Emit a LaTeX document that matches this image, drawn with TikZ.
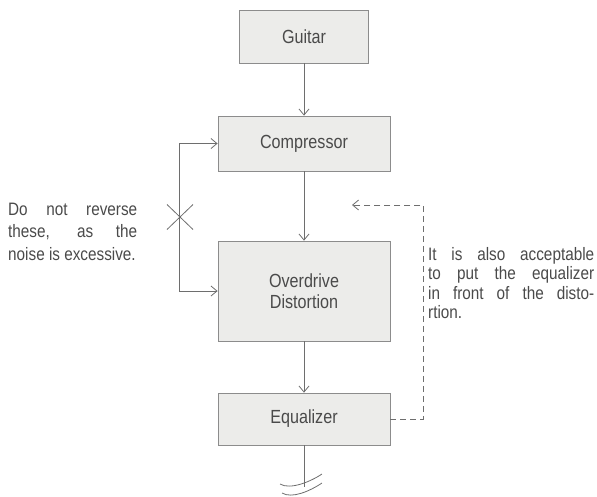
\documentclass[tikz,border=0pt]{standalone}
\usepackage{fontspec}
\setmainfont[FakeStretch=0.85]{Liberation Sans}
\usepackage{tikz}
\usetikzlibrary{arrows.meta,positioning}
\definecolor{blockFill}{HTML}{ECECEA}
\definecolor{blockFrame}{HTML}{8C8C8C}
\definecolor{inkLine}{HTML}{6E6E6E}
\definecolor{inkText}{HTML}{4A4A4A}

\begin{document}
\begin{tikzpicture}[x=1pt,y=-1pt,>={Straight Barb[length=6pt,width=10pt]},
  block/.style={draw=blockFrame,fill=blockFill,thick,text=inkText,minimum width=172pt,align=center,font=\fontsize{19}{21}\selectfont},
  wire/.style={inkLine,thick},
  note/.style={text=inkText,inner sep=0pt,align=justify,anchor=base west}]
  \useasboundingbox (0,0) rectangle (597,496);
  \node[block,minimum width=129pt,minimum height=53pt] (guitar) at (304,36.5) {Guitar};
  \node[block,minimum height=55pt] (comp) at (304,143.5) {Compressor};
  \node[block,minimum height=100pt] (drive) at (304,291) {Overdrive\\Distortion};
  \node[block,minimum height=52pt] (eq) at (304,419) {Equalizer};
  \draw[wire,->] (guitar) -- (comp);
  \draw[wire,->] (comp) -- (drive);
  \draw[wire,->] (drive) -- (eq);
  \draw[wire,<->] (comp.west) -- ++(-38,0) |- (drive.west);
  \coordinate (cross) at (180,217);
  \draw[wire] (cross) ++(-13,-12.5) -- ++(26,25) (cross) ++(-13,12.5) -- ++(26,-25);
  \coordinate (eqtap) at (352,205);
  \draw[wire,dash pattern=on 6pt off 4pt,->] (eq.east) -- ++(33,0) |- (eqtap);
  \coordinate (outEnd) at (304,487);
  \draw[wire] (eq.south) -- (outEnd);
  \draw[wire] (outEnd) ++(-24,-3) .. controls ++(10,6) and ++(-12,8) .. ++(42,-10);
  \draw[wire] (outEnd) ++(-22,6) .. controls ++(10,6) and ++(-12,8) .. ++(40,-10);
  \node[note,text width=129pt,font=\fontsize{18}{22.5}\selectfont] (warn) at (8,215)
    {Do not reverse\linebreak these, as the\linebreak noise is excessive.};
  \node[note,text width=166pt,font=\fontsize{18}{19.5}\selectfont] (hint) at (428,260)
    {It is also acceptable\linebreak to put the equalizer\linebreak in front of the disto-\linebreak rtion.};
\end{tikzpicture}
\end{document}
